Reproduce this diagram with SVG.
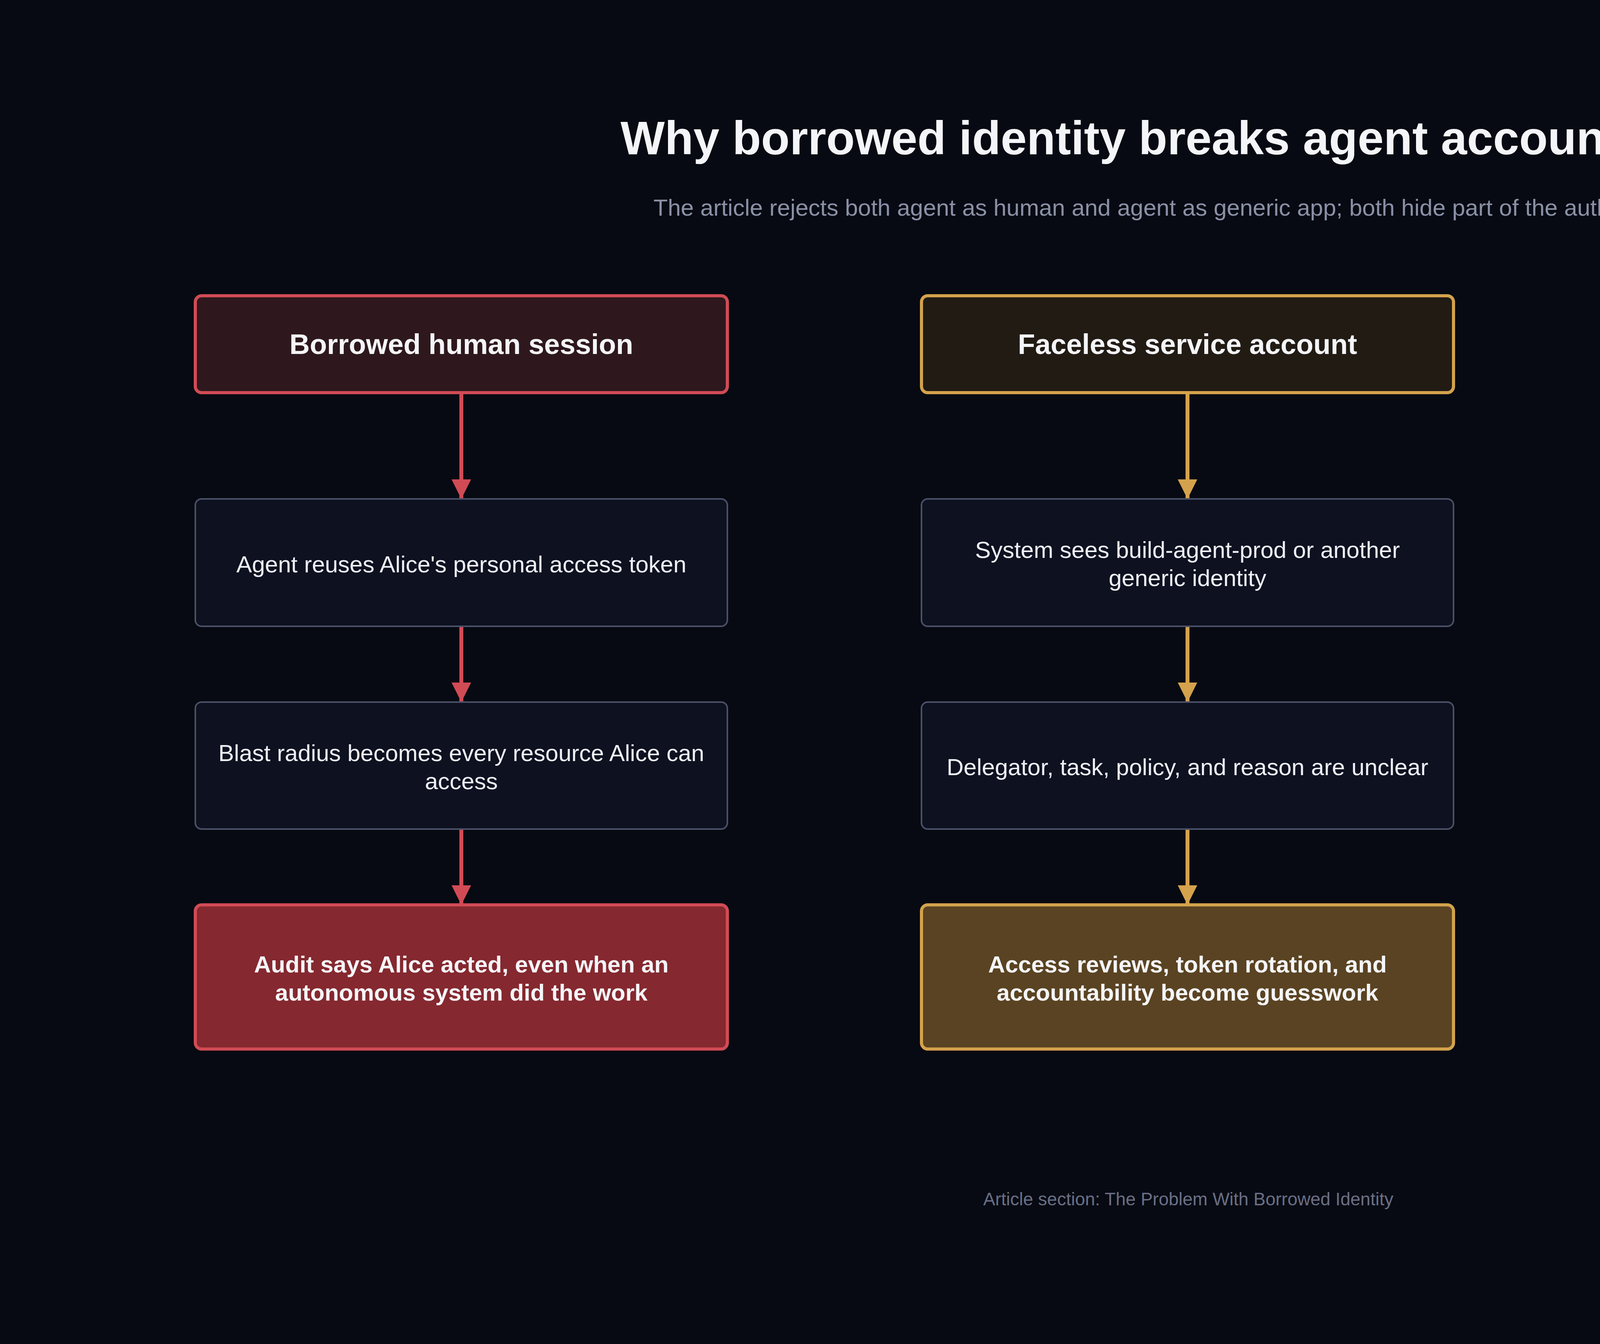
<svg xmlns="http://www.w3.org/2000/svg" width="6084" height="3440" viewBox="0 0 6084 3440">
<style>
text{font-family:"Liberation Sans",Arial,sans-serif;text-anchor:middle}
.t{font-size:120px;font-weight:bold;fill:#f4f5f8}
.s{font-size:60px;fill:#8a90a6}
.f{font-size:46px;fill:#6a6f86}
.h{font-size:72px;font-weight:bold;fill:#f4f5f8}
.b{font-size:60px;fill:#eef0f5}
.e{font-size:60px;font-weight:bold;fill:#f4f5f8}
.mid{fill:#0d1120;stroke:#4a5068;stroke-width:4}
.c line{stroke-width:10}
</style>
<defs>
<marker id="ar" viewBox="0 0 10 10" refX="10" refY="5" markerWidth="5" markerHeight="5" markerUnits="strokeWidth" orient="auto"><path d="M0,0L10,5L0,10z" fill="#d14b55"/></marker>
<marker id="ag" viewBox="0 0 10 10" refX="10" refY="5" markerWidth="5" markerHeight="5" markerUnits="strokeWidth" orient="auto"><path d="M0,0L10,5L0,10z" fill="#d4a24c"/></marker>
<marker id="at" viewBox="0 0 10 10" refX="10" refY="5" markerWidth="5" markerHeight="5" markerUnits="strokeWidth" orient="auto"><path d="M0,0L10,5L0,10z" fill="#5cd6b8"/></marker>
</defs>
<rect width="6084" height="3440" fill="#070a12"/>
<text class="t" x="3042" y="395">Why borrowed identity breaks agent accountability</text>
<text class="s" x="3042" y="552">The article rejects both agent as human and agent as generic app; both hide part of the authority chain.</text>
<g class="c" id="connectors">
<g stroke="#d14b55"><line x1="1181" y1="1005" x2="1181" y2="1277" marker-end="url(#ar)"/><line x1="1181" y1="1603" x2="1181" y2="1797" marker-end="url(#ar)"/><line x1="1181" y1="2122" x2="1181" y2="2316" marker-end="url(#ar)"/></g>
<g stroke="#d4a24c"><line x1="3040" y1="1005" x2="3040" y2="1277" marker-end="url(#ag)"/><line x1="3040" y1="1603" x2="3040" y2="1797" marker-end="url(#ag)"/><line x1="3040" y1="2122" x2="3040" y2="2316" marker-end="url(#ag)"/></g>
<g stroke="#5cd6b8"><line x1="4902" y1="1005" x2="4902" y2="1277" marker-end="url(#at)"/><line x1="4902" y1="1603" x2="4902" y2="1797" marker-end="url(#at)"/><line x1="4902" y1="2122" x2="4902" y2="2316" marker-end="url(#at)"/></g>
</g>
<g id="r1"><rect x="500" y="757" width="1362" height="248" rx="16" fill="#2e181d" stroke="#d14b55" stroke-width="8"/><text class="h" x="1181" y="906">Borrowed human session</text></g>
<g id="r2"><rect class="mid" x="500" y="1277" width="1362" height="326" rx="16"/><text class="b" x="1181" y="1465">Agent reuses Alice's personal access token</text></g>
<g id="r3"><rect class="mid" x="500" y="1797" width="1362" height="325" rx="16"/><text class="b" x="1181" y="1948">Blast radius becomes every resource Alice can</text><text class="b" x="1181" y="2020">access</text></g>
<g id="r4"><rect x="500" y="2316" width="1362" height="369" rx="16" fill="#85282f" stroke="#d14b55" stroke-width="8"/><text class="e" x="1181" y="2489">Audit says Alice acted, even when an</text><text class="e" x="1181" y="2561">autonomous system did the work</text></g>
<g id="g1"><rect x="2359" y="757" width="1362" height="248" rx="16" fill="#211b14" stroke="#d4a24c" stroke-width="8"/><text class="h" x="3040" y="906">Faceless service account</text></g>
<g id="g2"><rect class="mid" x="2359" y="1277" width="1362" height="326" rx="16"/><text class="b" x="3040" y="1428">System sees build-agent-prod or another</text><text class="b" x="3040" y="1500">generic identity</text></g>
<g id="g3"><rect class="mid" x="2359" y="1797" width="1362" height="325" rx="16"/><text class="b" x="3040" y="1984">Delegator, task, policy, and reason are unclear</text></g>
<g id="g4"><rect x="2359" y="2316" width="1362" height="369" rx="16" fill="#5a4322" stroke="#d4a24c" stroke-width="8"/><text class="e" x="3040" y="2489">Access reviews, token rotation, and</text><text class="e" x="3040" y="2561">accountability become guesswork</text></g>
<g id="t1"><rect x="4221" y="757" width="1362" height="248" rx="16" fill="#0e1d20" stroke="#5cd6b8" stroke-width="8"/><text class="h" x="4902" y="906">Agent-first account</text></g>
<g id="t2"><rect class="mid" x="4221" y="1277" width="1362" height="326" rx="16"/><text class="b" x="4902" y="1428">Agent has its own durable login, token,</text><text class="b" x="4902" y="1500">repository namespace, and lifecycle</text></g>
<g id="t3"><rect class="mid" x="4221" y="1797" width="1362" height="325" rx="16"/><text class="b" x="4902" y="1948">Delegation, task, resource, action, and context</text><text class="b" x="4902" y="2020">stay explicit</text></g>
<g id="t4"><rect x="4221" y="2316" width="1362" height="369" rx="16" fill="#173b38" stroke="#5cd6b8" stroke-width="8"/><text class="e" x="4902" y="2489">Action is scoped, revocable, attributable,</text><text class="e" x="4902" y="2561">and auditable</text></g>
<text class="f" x="3042" y="3085">Article section: The Problem With Borrowed Identity</text>
</svg>
